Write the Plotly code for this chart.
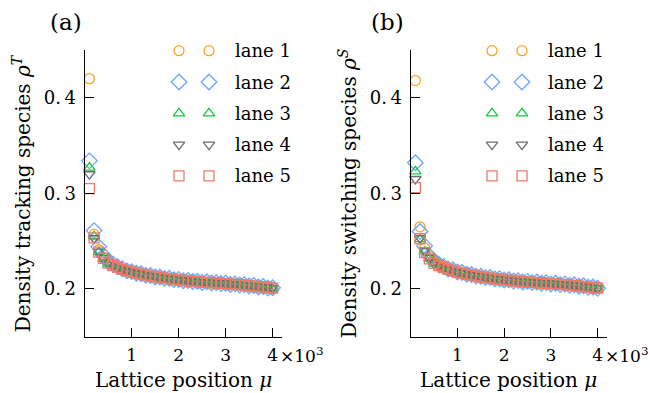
import plotly.graph_objects as go

# ---------------- data ----------------
mu = [100, 200, 300, 400, 500, 600, 700, 800, 900, 1000,
      1100, 1200, 1300, 1400, 1500, 1600, 1700, 1800, 1900, 2000,
      2100, 2200, 2300, 2400, 2500, 2600, 2700, 2800, 2900, 3000,
      3100, 3200, 3300, 3400, 3500, 3600, 3700, 3800, 3900, 4000]

lane_names = ["lane 1", "lane 2", "lane 3", "lane 4", "lane 5"]

# panel (a): tracking species density
lane1_a = [0.420, 0.257, 0.241, 0.233, 0.228, 0.2250, 0.2228, 0.2208, 0.2192, 0.2177, 0.2166, 0.2154, 0.2146, 0.2137, 0.2129, 0.2121, 0.2114, 0.2106, 0.2101, 0.2095, 0.2090, 0.2084, 0.2081, 0.2075, 0.2071, 0.2069, 0.2064, 0.2061, 0.2060, 0.2055, 0.2051, 0.2049, 0.2043, 0.2041, 0.2034, 0.2031, 0.2024, 0.2021, 0.2013, 0.2009]
lane2_a = [0.334, 0.261, 0.244, 0.235, 0.2285, 0.2262, 0.2231, 0.2212, 0.2189, 0.2181, 0.2163, 0.2158, 0.2142, 0.2140, 0.2125, 0.2124, 0.2110, 0.2112, 0.2097, 0.2099, 0.2086, 0.2089, 0.2077, 0.2080, 0.2068, 0.2074, 0.2061, 0.2066, 0.2056, 0.2060, 0.2047, 0.2053, 0.2040, 0.2045, 0.2031, 0.2036, 0.2020, 0.2026, 0.2009, 0.2012]
lane3_a = [0.327, 0.255, 0.2385, 0.2315, 0.2265, 0.2240, 0.2220, 0.2199, 0.2186, 0.2170, 0.2160, 0.2150, 0.2141, 0.2131, 0.2125, 0.2116, 0.2110, 0.2103, 0.2097, 0.2090, 0.2087, 0.2081, 0.2077, 0.2073, 0.2069, 0.2064, 0.2063, 0.2058, 0.2056, 0.2053, 0.2049, 0.2045, 0.2042, 0.2037, 0.2033, 0.2027, 0.2023, 0.2017, 0.2012, 0.2005]
lane4_a = [0.320, 0.253, 0.2390, 0.2325, 0.2275, 0.2248, 0.2226, 0.2204, 0.2190, 0.2176, 0.2164, 0.2156, 0.2144, 0.2136, 0.2127, 0.2120, 0.2112, 0.2108, 0.2099, 0.2094, 0.2088, 0.2086, 0.2079, 0.2077, 0.2070, 0.2068, 0.2064, 0.2063, 0.2058, 0.2057, 0.2050, 0.2049, 0.2043, 0.2040, 0.2035, 0.2029, 0.2025, 0.2019, 0.2015, 0.2007]
lane5_a = [0.305, 0.2535, 0.2385, 0.232, 0.227, 0.2245, 0.2225, 0.2205, 0.219, 0.2175, 0.2165, 0.2155, 0.2145, 0.2135, 0.2128, 0.212, 0.2113, 0.2107, 0.21, 0.2094, 0.2089, 0.2085, 0.208, 0.2076, 0.2072, 0.2068, 0.2065, 0.2062, 0.2059, 0.2056, 0.2052, 0.2048, 0.2044, 0.204, 0.2035, 0.203, 0.2025, 0.202, 0.2014, 0.2008]

# panel (b): switching species density
lane1_b = [0.418, 0.265, 0.243, 0.234, 0.229, 0.2255, 0.2232, 0.2210, 0.2195, 0.2180, 0.2167, 0.2157, 0.2147, 0.2139, 0.2130, 0.2122, 0.2116, 0.2109, 0.2103, 0.2097, 0.2092, 0.2087, 0.2083, 0.2078, 0.2074, 0.2071, 0.2067, 0.2064, 0.2061, 0.2058, 0.2054, 0.2051, 0.2047, 0.2043, 0.2038, 0.2033, 0.2027, 0.2022, 0.2016, 0.2010]
lane2_b = [0.332, 0.260, 0.245, 0.2345, 0.2290, 0.2258, 0.2236, 0.2209, 0.2200, 0.2178, 0.2172, 0.2153, 0.2150, 0.2134, 0.2133, 0.2118, 0.2119, 0.2105, 0.2107, 0.2093, 0.2096, 0.2082, 0.2087, 0.2073, 0.2079, 0.2066, 0.2072, 0.2059, 0.2066, 0.2052, 0.2059, 0.2045, 0.2052, 0.2037, 0.2043, 0.2028, 0.2033, 0.2017, 0.2020, 0.2006]
lane3_b = [0.323, 0.252, 0.2390, 0.2318, 0.2268, 0.2241, 0.2219, 0.2201, 0.2185, 0.2171, 0.2159, 0.2149, 0.2140, 0.2131, 0.2123, 0.2116, 0.2109, 0.2102, 0.2096, 0.2091, 0.2086, 0.2081, 0.2077, 0.2073, 0.2069, 0.2066, 0.2062, 0.2059, 0.2056, 0.2053, 0.2049, 0.2046, 0.2042, 0.2038, 0.2033, 0.2028, 0.2023, 0.2017, 0.2011, 0.2004]
lane4_b = [0.315, 0.253, 0.2395, 0.2326, 0.2276, 0.2249, 0.2227, 0.2206, 0.2191, 0.2176, 0.2165, 0.2155, 0.2145, 0.2137, 0.2128, 0.2121, 0.2114, 0.2108, 0.2101, 0.2095, 0.2090, 0.2086, 0.2081, 0.2077, 0.2073, 0.2069, 0.2066, 0.2063, 0.2060, 0.2057, 0.2053, 0.2049, 0.2045, 0.2041, 0.2036, 0.2031, 0.2026, 0.2020, 0.2014, 0.2008]
lane5_b = [0.306, 0.2525, 0.2380, 0.2315, 0.2268, 0.2243, 0.2223, 0.2204, 0.2189, 0.2174, 0.2164, 0.2154, 0.2144, 0.2135, 0.2127, 0.2120, 0.2113, 0.2107, 0.2100, 0.2094, 0.2089, 0.2085, 0.2080, 0.2076, 0.2072, 0.2068, 0.2065, 0.2062, 0.2059, 0.2056, 0.2052, 0.2048, 0.2044, 0.2040, 0.2035, 0.2030, 0.2025, 0.2020, 0.2014, 0.2008]

x_tick_vals = [1000, 2000, 3000, 4000]
x_tick_text = ["1", "2", "3", "4"]
y_tick_vals = [0.2, 0.3, 0.4]
y_tick_text = ["0.\u20092", "0.\u20093", "0.\u20094"]

# ---------------- style ----------------
W, H = 650, 393
FONT = "DejaVu Serif"
colors = ["#FFA31A", "#6AA6FF", "#19C73C", "#6E6E6E", "#EC7B69"]
symbols = ["circle-open", "diamond-open", "triangle-up-open", "triangle-down-open", "square-open"]
sizes = [10, 12, 10, 10, 10]

panels = [
    dict(series=[lane1_a, lane2_a, lane3_a, lane4_a, lane5_a], x0=84.7, x1=282.0,
         ytitle="Density tracking species <i>ρ</i><sup><i>T</i></sup>", tag="(a)", tagx=66,
         ytitle_x=22, leg_x=179, leg_tx=233),
    dict(series=[lane1_b, lane2_b, lane3_b, lane4_b, lane5_b], x0=410.7, x1=607.0,
         ytitle="Density switching species <i>ρ</i><sup><i>S</i></sup>", tag="(b)", tagx=387,
         ytitle_x=348, leg_x=492, leg_tx=546),
]
y_top, y_bot = 50.0, 336.7
leg_row0, leg_dy, leg_dx = 50.7, 31.3, 30

fig = go.Figure()
annotations = []
layout_axes = {}

for p_i, p in enumerate(panels):
    k = "" if p_i == 0 else str(p_i + 1)
    for i, ys in enumerate(p["series"]):
        fig.add_trace(go.Scatter(
            x=mu, y=ys, mode="markers", name=lane_names[i], showlegend=False,
            xaxis="x" + k, yaxis="y" + k, cliponaxis=False,
            marker=dict(symbol=symbols[i], size=sizes[i], color=colors[i],
                        line=dict(color=colors[i], width=1.3))))
    layout_axes["xaxis" + k] = dict(
        domain=[p["x0"] / W, p["x1"] / W], range=[0, 4200], anchor="y" + k,
        showline=True, linecolor="black", linewidth=1.3, showgrid=False, zeroline=False,
        ticks="inside", ticklen=9, tickwidth=1.3, tickcolor="black",
        tickvals=x_tick_vals, ticktext=x_tick_text, ticklabelstandoff=3,
        tickfont=dict(family=FONT, size=17, color="black"))
    layout_axes["yaxis" + k] = dict(
        domain=[1 - y_bot / H, 1 - y_top / H], range=[0.15, 0.45], anchor="x" + k,
        showline=True, linecolor="black", linewidth=1.3, showgrid=False, zeroline=False,
        ticks="inside", ticklen=9, tickwidth=1.3, tickcolor="black",
        tickvals=y_tick_vals, ticktext=y_tick_text, ticklabelstandoff=4,
        tickfont=dict(family=FONT, size=18, color="black"))
    # x10^3 multiplier
    annotations.append(dict(
        text="×10<sup>3</sup>", x=(p["x1"] - 4) / W, y=1 - 355 / H, xref="paper", yref="paper",
        xanchor="left", yanchor="middle", showarrow=False,
        font=dict(family=FONT, size=17, color="black")))
    # axis titles
    annotations.append(dict(
        text="Lattice position <i>μ</i>", x=(p["x0"] + p["x1"]) / 2 / W, y=1 - 380 / H,
        xref="paper", yref="paper", xanchor="center", yanchor="middle", showarrow=False,
        font=dict(family=FONT, size=20, color="black")))
    annotations.append(dict(
        text=p["ytitle"], x=p["ytitle_x"] / W, y=1 - (y_top + y_bot) / 2 / H,
        xref="paper", yref="paper", xanchor="center", yanchor="middle", showarrow=False,
        textangle=-90, font=dict(family=FONT, size=20, color="black")))
    # panel tag
    annotations.append(dict(
        text=p["tag"], x=p["tagx"] / W, y=1 - 22 / H, xref="paper", yref="paper",
        xanchor="center", yanchor="middle", showarrow=False,
        font=dict(family=FONT, size=23, color="black")))
    # manual legend (two markers per entry)
    for i in range(5):
        ry = leg_row0 + i * leg_dy
        fig.add_trace(go.Scatter(
            x=[p["leg_x"], p["leg_x"] + leg_dx], y=[ry, ry], mode="markers",
            showlegend=False, hoverinfo="skip", xaxis="x3", yaxis="y3", cliponaxis=False,
            marker=dict(symbol=symbols[i], size=sizes[i], color=colors[i],
                        line=dict(color=colors[i], width=1.3))))
        annotations.append(dict(
            text=lane_names[i], x=p["leg_tx"], y=ry, xref="x3", yref="y3",
            xanchor="left", yanchor="middle", showarrow=False,
            font=dict(family=FONT, size=18, color="black")))

layout_axes["xaxis3"] = dict(domain=[0, 1], range=[0, W], visible=False, fixedrange=True)
layout_axes["yaxis3"] = dict(domain=[0, 1], range=[H, 0], visible=False, fixedrange=True)

fig.update_layout(
    width=W, height=H, margin=dict(l=0, r=0, t=0, b=0),
    paper_bgcolor="white", plot_bgcolor="rgba(0,0,0,0)",
    showlegend=False, annotations=annotations,
    font=dict(family=FONT, color="black"),
    **layout_axes)

fig.write_html("out.html")
